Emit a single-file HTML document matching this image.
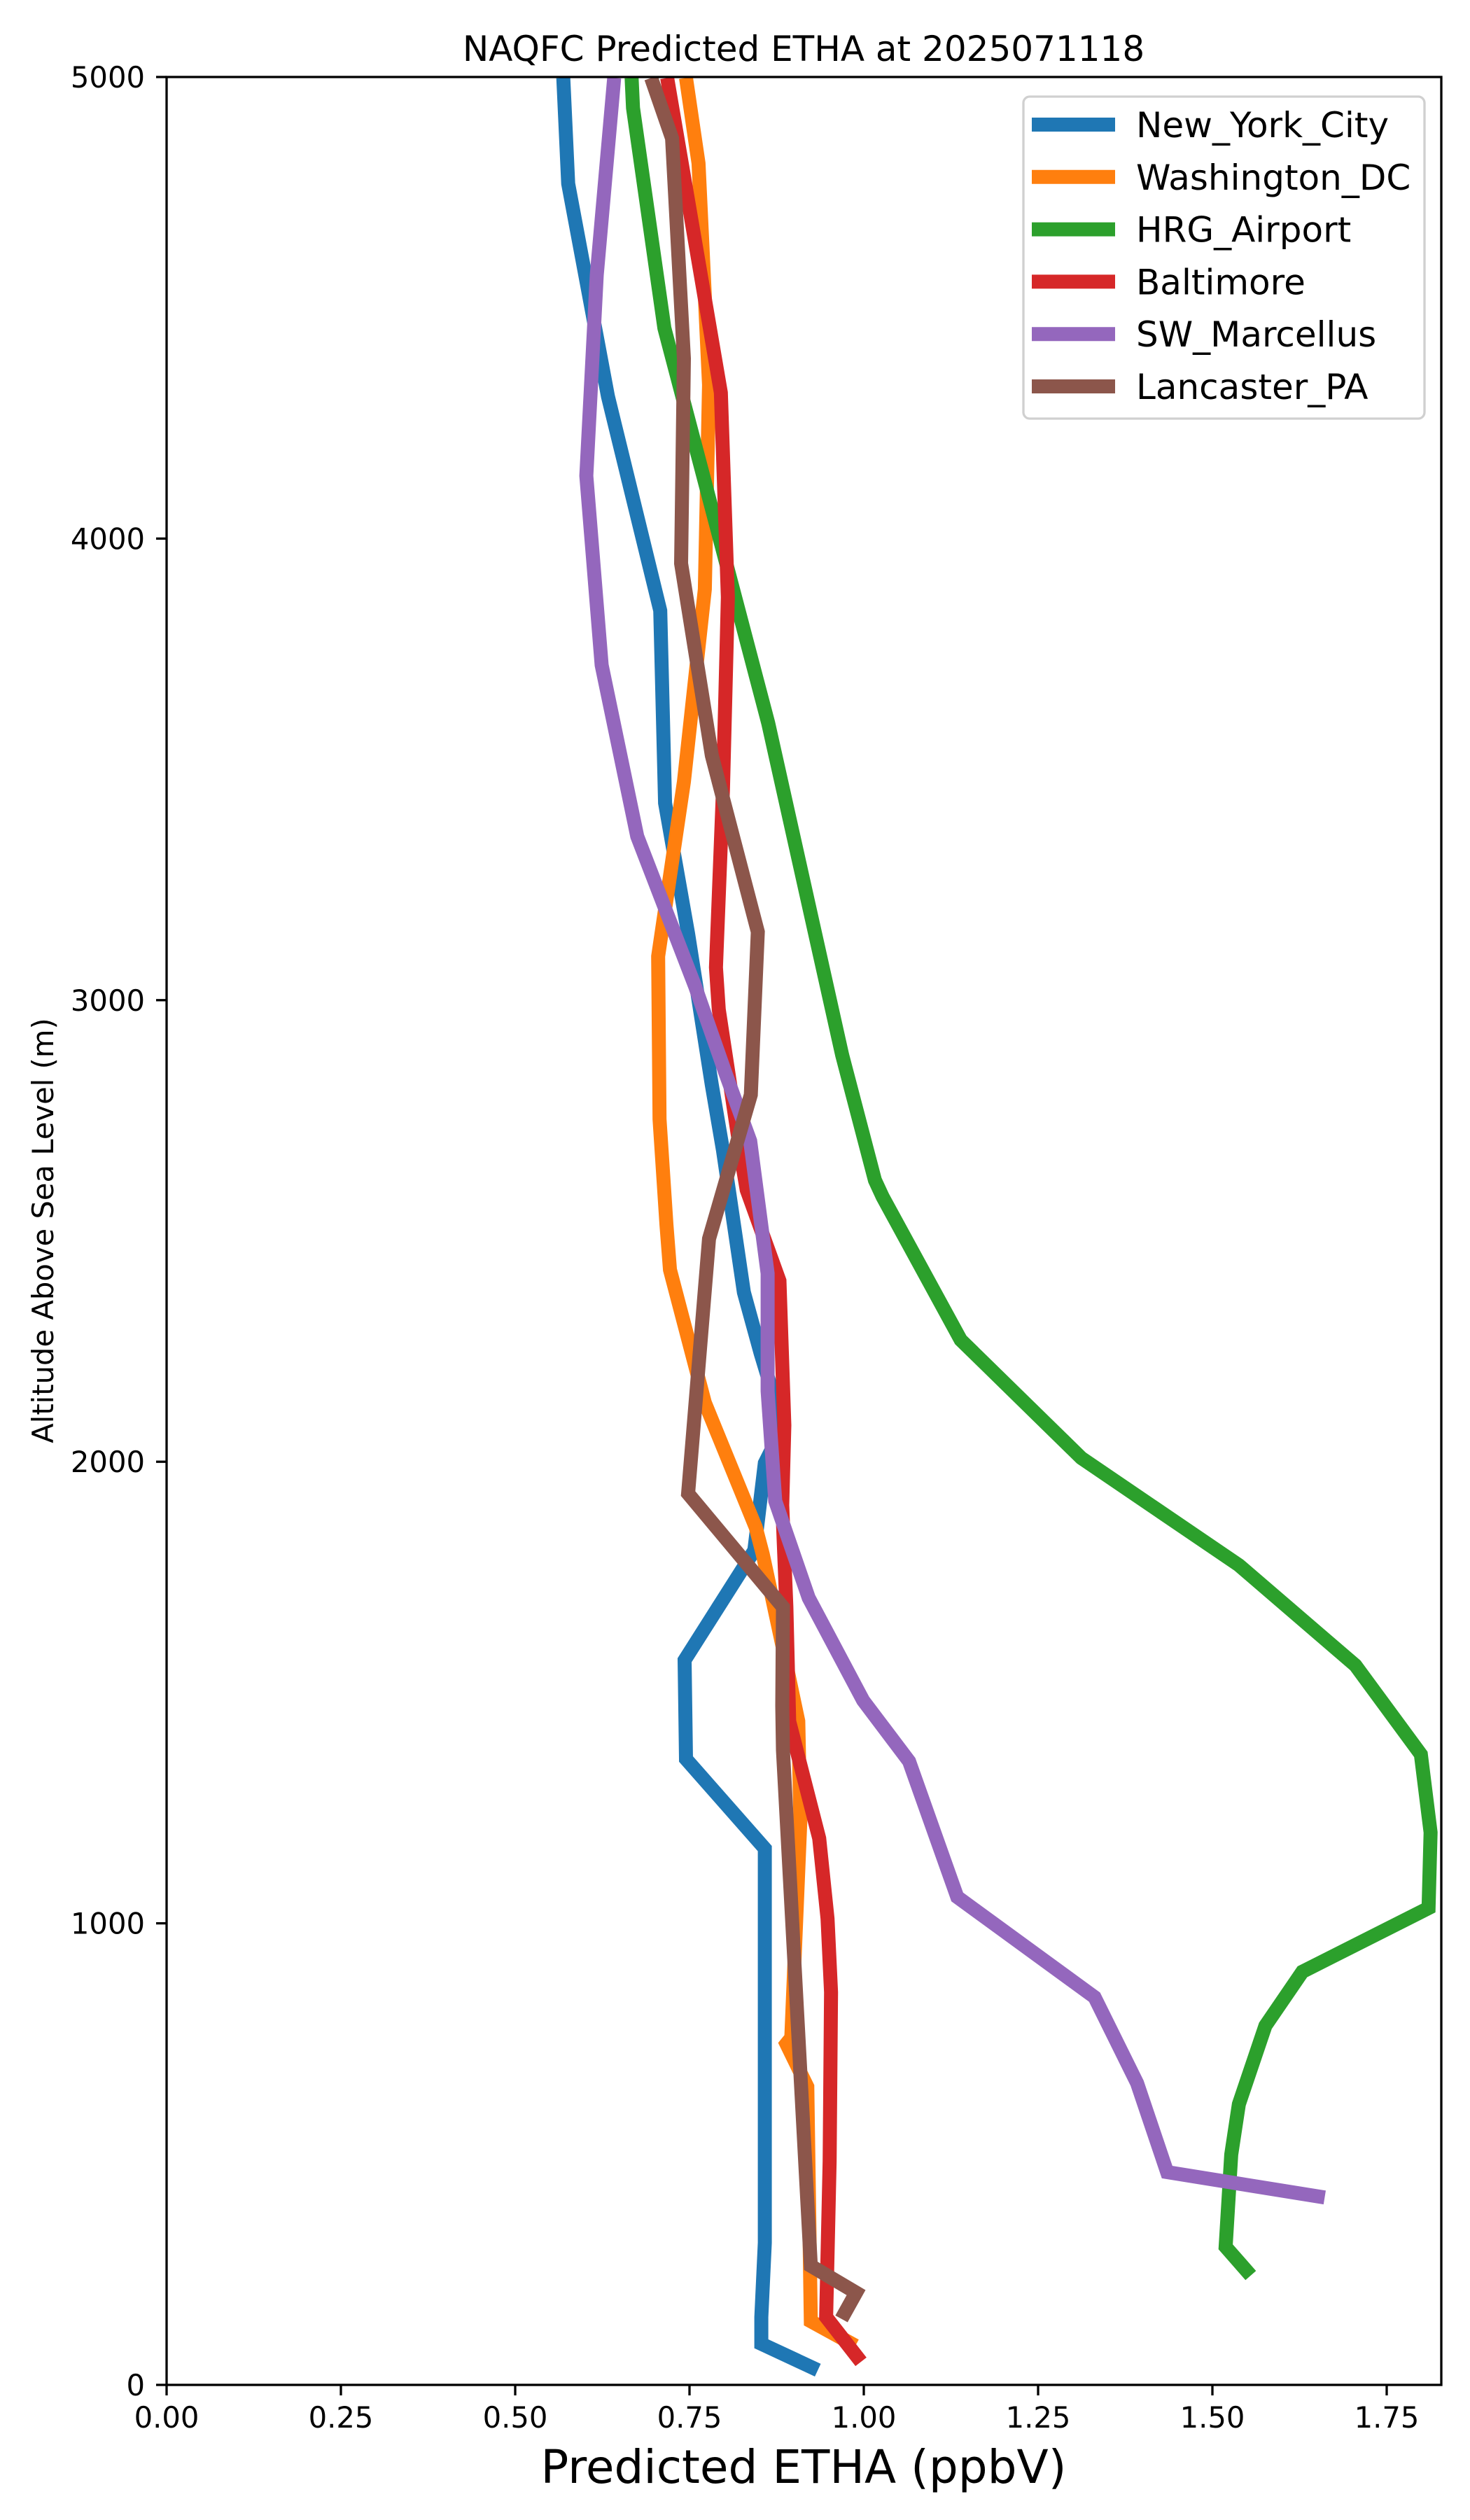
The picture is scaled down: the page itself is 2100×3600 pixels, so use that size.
<!DOCTYPE html>
<html><head><meta charset="utf-8"><style>
html,body{margin:0;padding:0;background:#fff;}
svg{display:block;font-family:"DejaVu Sans","Liberation Sans",sans-serif;}
</style></head><body>
<svg id="chart" width="2100" height="3600" viewBox="0 0 2100 3600" xmlns="http://www.w3.org/2000/svg">
<rect x="0" y="0" width="2100" height="3600" fill="#fff"/>
<text x="1148" y="87" font-size="50" text-anchor="middle">NAQFC Predicted ETHA at 2025071118</text>
<g id="series"></g>
<rect x="238" y="110" width="1821" height="3297" fill="none" stroke="#000" stroke-width="3.3"/>
<g id="xticks"></g>
<g id="yticks"></g>
<text x="1148" y="3547" font-size="66" text-anchor="middle">Predicted ETHA (ppbV)</text>
<text x="0" y="0" font-size="41.7" text-anchor="middle" transform="translate(76,1758) rotate(-90)">Altitude Above Sea Level (m)</text>
<g id="legend">
<rect x="1462" y="138" width="573" height="460" rx="9" fill="#fff" fill-opacity="0.8" stroke="#d0d0d0" stroke-width="3.3"/>
</g>
</svg>
<script>
const xTicks=[0,0.25,0.5,0.75,1.0,1.25,1.5,1.75];
const xTickLabels=["0.00","0.25","0.50","0.75","1.00","1.25","1.50","1.75"];
const yTicks=[0,1000,2000,3000,4000,5000];
const yTickLabels=["0","1000","2000","3000","4000","5000"];
const seriesNames=["New_York_City","Washington_DC","HRG_Airport","Baltimore","SW_Marcellus","Lancaster_PA"];
const seriesColors=["#1f77b4","#ff7f0e","#2ca02c","#d62728","#9467bd","#8c564b"];
const nycVals=[0.569,0.576,0.633,0.708,0.715,0.748,0.782,0.798,0.828,0.852,0.884,0.858,0.843,0.743,0.745,0.858,0.858,0.853,0.853,0.934];
const nycAlts=[4998,4769,4308,3844,3427,3144,2816,2675,2367,2235,2075,1997,1808,1570,1356,1162,308,147,89,32];
const dcVals=[0.745,0.763,0.778,0.772,0.742,0.705,0.707,0.717,0.722,0.772,0.845,0.855,0.883,0.906,0.909,0.896,0.889,0.919,0.924,0.988];
const dcAlts=[4998,4813,4333,3890,3473,3095,2742,2513,2416,2128,1858,1800,1603,1438,1224,752,739,646,138,85];
const hrgVals=[0.667,0.669,0.714,0.863,0.969,1.016,1.027,1.139,1.312,1.538,1.705,1.799,1.813,1.810,1.629,1.576,1.538,1.527,1.519,1.555];
const hrgAlts=[4998,4933,4456,3600,2881,2610,2574,2264,2008,1776,1559,1366,1197,1033,895,778,608,499,299,237];
const balVals=[0.718,0.795,0.805,0.798,0.788,0.792,0.825,0.832,0.879,0.886,0.883,0.889,0.893,0.936,0.948,0.953,0.951,0.946,0.996];
const balAlts=[4998,4316,3873,3456,3071,2980,2651,2589,2392,2079,1906,1685,1438,1184,1010,851,485,147,50];
const swmVals=[0.642,0.617,0.602,0.624,0.675,0.758,0.802,0.837,0.862,0.862,0.873,0.921,0.999,1.065,1.134,1.331,1.392,1.435,1.661];
const swmAlts=[4998,4571,4136,3726,3355,3030,2840,2695,2408,2153,1915,1705,1483,1351,1057,840,654,461,406];
const lanVals=[0.695,0.725,0.742,0.738,0.782,0.848,0.838,0.778,0.748,0.884,0.883,0.884,0.924,0.989,0.968];
const lanAlts=[4998,4867,4390,3946,3530,3148,2795,2483,1931,1685,1471,1375,258,200,143];

const NS="http://www.w3.org/2000/svg";
const X0=238,X1=2059,Y0=3407,Y1=110,XMAX=(X1-X0)/996,YMAX=5000;
function xs(v){return X0+(v/XMAX)*(X1-X0);}
function ys(a){return Y0-(a/YMAX)*(Y0-Y1);}
function mk(tag,attrs){const e=document.createElementNS(NS,tag);for(const k in attrs)e.setAttribute(k,attrs[k]);return e;}

const allVals=[nycVals,dcVals,hrgVals,balVals,swmVals,lanVals];
const allAlts=[nycAlts,dcAlts,hrgAlts,balAlts,swmAlts,lanAlts];
const sg=document.getElementById('series');
const clip=mk('clipPath',{id:'plotclip'});
clip.appendChild(mk('rect',{x:X0,y:Y1,width:X1-X0,height:Y0-Y1}));
sg.appendChild(clip);
for(let i=0;i<allVals.length;i++){
  const pts=allVals[i].map((v,j)=>xs(v).toFixed(1)+','+ys(allAlts[i][j]).toFixed(1)).join(' ');
  const pl=mk('polyline',{points:pts,fill:'none',stroke:seriesColors[i],'stroke-width':20,'stroke-linejoin':'miter','stroke-linecap':'butt','clip-path':'url(#plotclip)'});
  
  
  sg.appendChild(pl);
}

const xg=document.getElementById('xticks');
xTicks.forEach((t,i)=>{
  const x=xs(t);
  const ln=mk('line',{x1:x,y1:Y0,x2:x,y2:Y0+15,stroke:'#000','stroke-width':3.3});
  
  
  xg.appendChild(ln);
  const tx=mk('text',{x:x,y:3468,'font-size':41.7,'text-anchor':'middle'});
  
  
  tx.textContent=xTickLabels[i];
  xg.appendChild(tx);
});
const yg=document.getElementById('yticks');
yTicks.forEach((t,i)=>{
  const y=ys(t);
  const ln=mk('line',{x1:X0-15,y1:y,x2:X0,y2:y,stroke:'#000','stroke-width':3.3});
  
  
  yg.appendChild(ln);
  const tx=mk('text',{x:207,y:y+15,'font-size':41.7,'text-anchor':'end'});
  
  
  tx.textContent=yTickLabels[i];
  yg.appendChild(tx);
});

const lg=document.getElementById('legend');
seriesNames.forEach((n,i)=>{
  const cy=178+i*74.8;
  const g=mk('g',{});
  
  
  const ln=mk('line',{x1:1474,y1:cy,x2:1593,y2:cy,stroke:seriesColors[i],'stroke-width':20});
  
  
  g.appendChild(ln);
  const tx=mk('text',{x:1623,y:cy+18,'font-size':50});
  
  
  tx.textContent=n;
  g.appendChild(tx);
  lg.appendChild(g);
});
</script>
</body></html>
